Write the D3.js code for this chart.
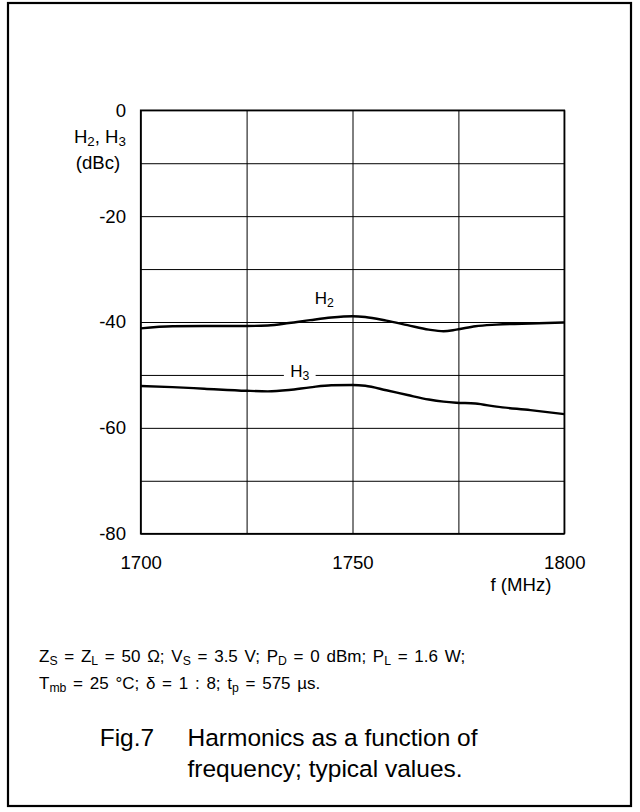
<!DOCTYPE html>
<html>
<head>
<meta charset="utf-8">
<script src="https://cdn.jsdelivr.net/npm/d3@7"></script>
<style>
  body { margin: 0; background: #fff; }
  svg text { font-family: "Liberation Sans", Arial, Helvetica, sans-serif; fill: #000; }
  .axis path { display: none; }
  .axis line { stroke: #000; stroke-width: 1; }
</style>
</head>
<body>
<div id="chart"></div>
<script>
// frequency in MHz, harmonics in dBc
const FREQS     = [1700, 1707.5, 1715, 1725, 1730, 1735, 1740, 1745, 1750, 1753, 1758, 1763, 1768, 1771.5, 1774.5, 1779, 1784, 1792, 1800];
const H2_VALUES = [-41.2, -40.8, -40.75, -40.75, -40.65, -40.2, -39.65, -39.15, -38.9, -39.05, -39.75, -40.6, -41.45, -41.75, -41.45, -40.8, -40.5, -40.27, -40.1];
const H3_VALUES = [-52.1, -52.3, -52.6, -53.0, -53.1, -52.85, -52.35, -51.95, -51.9, -52.05, -52.9, -53.8, -54.65, -55.05, -55.25, -55.4, -56.0, -56.65, -57.4];

const X_TICKS  = [1700, 1725, 1750, 1775, 1800];
const X_LABELS = [1700, 1750, 1800];
const Y_TICKS  = [0, -10, -20, -30, -40, -50, -60, -70, -80];
const Y_LABELS = [0, -20, -40, -60, -80];

const FONT = '"Liberation Sans", Arial, Helvetica, sans-serif';

function init() {
    drawChart();
}

// writes a text made of plain and subscript pieces
function richText(sel, parts, size) {
    let shift = 0;
    parts.forEach(p => {
        const span = sel.append('tspan');
        const target = p.sub ? size * 0.16 : 0;
        if (target !== shift) span.attr('dy', target - shift);
        shift = target;
        if (p.sub) span.attr('font-size', size * 0.72);
        span.text(p.sub || p.t);
    });
    return sel;
}

function drawChart() {
    const margin = {top: 110.3, left: 140.7};
    const width = 423.6;
    const height = 423.4;

    const svg = d3.select('#chart')
        .append('svg')
        .attr('width', 640)
        .attr('height', 812);

    // outer frame of the figure
    svg.append('rect')
        .attr('x', 8).attr('y', 3)
        .attr('width', 623).attr('height', 803)
        .attr('fill', 'none')
        .attr('stroke', '#000')
        .attr('stroke-width', 2.2);

    const g = svg.append('g')
        .attr('transform', `translate(${margin.left},${margin.top})`);

    const xScale = d3.scaleLinear().domain([1700, 1800]).range([0, width]);
    const yScale = d3.scaleLinear().domain([-80, 0]).range([height, 0]);

    const yAxis = d3.axisLeft(yScale)
        .tickValues(Y_TICKS)
        .tickSize(-width)
        .tickPadding(14.7)
        .tickFormat(d => String(d));
    const yG = g.append('g')
        .attr('class', 'axis')
        .call(yAxis)
        .attr('font-size', 18.6)
        .attr('font-family', FONT);
    yG.selectAll('.tick text').filter(d => !Y_LABELS.includes(d)).remove();

    const xAxis = d3.axisBottom(xScale)
        .tickValues(X_TICKS)
        .tickSize(-height)
        .tickPadding(22)
        .tickFormat(d => String(d));
    const xG = g.append('g')
        .attr('class', 'axis')
        .attr('transform', `translate(0, ${height})`)
        .call(xAxis)
        .attr('font-size', 18.6)
        .attr('font-family', FONT);
    xG.selectAll('.tick text').filter(d => !X_LABELS.includes(d)).remove();

    // plot frame
    g.append('rect')
        .attr('width', width).attr('height', height)
        .attr('fill', 'none')
        .attr('stroke', '#000')
        .attr('stroke-width', 1.6);

    // gap in the -50 gridline for the H3 label
    g.append('rect')
        .attr('x', xScale(1733.8))
        .attr('y', yScale(-50) - 2)
        .attr('width', xScale(1741.3) - xScale(1733.8))
        .attr('height', 4)
        .attr('fill', '#fff');

    const line = d3.line()
        .x((d, i) => xScale(FREQS[i]))
        .y(d => yScale(d))
        .curve(d3.curveMonotoneX);

    [H2_VALUES, H3_VALUES].forEach(vals => {
        g.append('path')
            .datum(vals)
            .attr('d', line)
            .attr('fill', 'none')
            .attr('stroke', '#000')
            .attr('stroke-width', 2.4)
            .attr('stroke-linejoin', 'round');
    });

    // curve labels
    richText(g.append('text')
        .attr('x', xScale(1741.1))
        .attr('y', yScale(-36.6))
        .attr('font-size', 17), [{t: 'H'}, {sub: '2'}], 17);
    richText(g.append('text')
        .attr('x', xScale(1735.3))
        .attr('y', yScale(-50.45))
        .attr('font-size', 17), [{t: 'H'}, {sub: '3'}], 17);

    // axis titles
    richText(svg.append('text')
        .attr('x', 126).attr('y', 143.3)
        .attr('text-anchor', 'end')
        .attr('font-size', 18.6), [{t: 'H'}, {sub: '2'}, {t: ', H'}, {sub: '3'}], 18.6);
    svg.append('text')
        .attr('x', 98).attr('y', 168.5)
        .attr('text-anchor', 'middle')
        .attr('font-size', 18.6)
        .text('(dBc)');
    svg.append('text')
        .attr('x', 521).attr('y', 591)
        .attr('text-anchor', 'middle')
        .attr('font-size', 18.6)
        .text('f (MHz)');

    // conditions
    const cond = svg.append('g')
        .attr('font-size', 17)
        .attr('word-spacing', 2);
    richText(cond.append('text').attr('x', 39).attr('y', 662), [
        {t: 'Z'}, {sub: 'S'}, {t: ' = Z'}, {sub: 'L'}, {t: ' = 50 \u03A9; V'}, {sub: 'S'},
        {t: ' = 3.5 V; P'}, {sub: 'D'}, {t: ' = 0 dBm; P'}, {sub: 'L'}, {t: ' = 1.6 W;'}
    ], 17);
    richText(cond.append('text').attr('x', 39).attr('y', 689), [
        {t: 'T'}, {sub: 'mb'}, {t: ' = 25 \u00B0C; \u03B4 = 1 : 8; t'}, {sub: 'p'}, {t: ' = 575 \u00B5s.'}
    ], 17);

    // caption
    const cap = svg.append('g').attr('font-size', 24.5);
    cap.append('text').attr('x', 99.7).attr('y', 746).text('Fig.7');
    cap.append('text').attr('x', 187.5).attr('y', 746).text('Harmonics as a function of');
    cap.append('text').attr('x', 187.5).attr('y', 777).text('frequency; typical values.');
}

window.addEventListener('load', init);
</script>
</body>
</html>
